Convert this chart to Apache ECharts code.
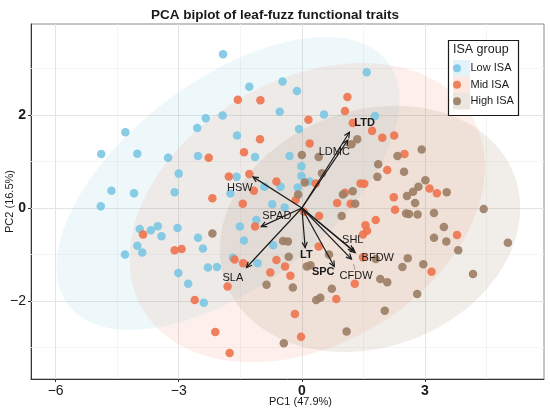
<!DOCTYPE html>
<html>
<head>
<meta charset="utf-8">
<script src="https://cdn.jsdelivr.net/npm/echarts@6/dist/echarts.min.js"></script>
<style>
html, body { margin: 0; padding: 0; background: #fff; }
#chart { width: 550px; height: 413px; }
</style>
</head>
<body>
<div id="chart"></div>
<script>
// --- data (PC1, PC2 scores) ---
const groups = ['Low ISA', 'Mid ISA', 'High ISA'];

const lowISA = [
  [-1.92, 3.31], [-1.28, 2.61], [-1.93, 1.99], [-2.34, 1.93], [-2.55, 1.72], [-4.30, 1.63], [-1.58, 1.56],
  [-4.89, 1.16], [-4.01, 1.17], [-3.26, 1.08], [-2.53, 1.12], [-1.14, 1.10], [-3.00, 0.74], [-1.59, 0.67],
  [-4.64, 0.37], [-4.09, 0.32], [-3.10, 0.34], [-1.74, 0.31], [-4.90, 0.04], [-0.91, 0.46], [-0.72, 0.08],
  [-0.54, 2.07], [-0.47, 2.72], [-1.11, -0.26], [-1.51, -0.40], [-3.95, -0.45], [-3.68, -0.48], [-3.51, -0.39],
  [-3.42, -0.61], [-3.03, -0.43], [-4.01, -0.81], [-3.89, -0.96], [-4.31, -1.00], [-2.53, -0.64], [-2.41, -0.87],
  [-2.29, -1.28], [-2.07, -1.27], [-3.01, -1.40], [-2.77, -1.63], [-2.39, -2.04], [-1.41, -0.70], [-1.68, -1.07],
  [-1.08, -1.19], [-0.70, -0.80], [1.58, 2.92], [-0.12, 2.52], [0.54, 2.01], [1.78, 1.98], [-0.07, 1.70],
  [-0.30, 1.12], [-0.01, 0.90], [-0.01, 0.69], [-0.52, 0.46], [-0.10, 0.44], [0.19, 0.57], [-0.42, 0.01]
];
const midISA = [
  [-1.56, 2.33], [-1.01, 2.32], [-1.02, 1.48], [-1.41, 1.20], [-2.27, 1.08], [-1.78, 0.68], [-1.28, 0.73],
  [-1.17, 0.37], [-2.18, 0.21], [-1.44, 0.09], [-0.62, 0.57], [-1.14, -0.40], [-3.87, -0.57], [-3.10, -0.91],
  [-2.93, -0.88], [-2.61, -1.98], [-2.11, -2.67], [-1.76, -3.12], [-1.81, -1.69], [-1.64, -1.11], [-1.43, -1.19],
  [-0.77, -1.39], [-0.62, -1.12], [1.11, 2.39], [1.05, 2.09], [0.16, 1.90], [1.24, 1.83], [1.71, 1.66],
  [1.96, 1.51], [2.25, 1.56], [0.19, 1.39], [2.50, 1.16], [2.08, 0.82], [0.34, 0.53], [1.43, 0.53],
  [1.52, 0.52], [3.11, 0.42], [3.29, 0.32], [1.05, 0.33], [0.86, 0.11], [1.19, 0.09], [2.24, 0.23],
  [2.27, -0.04], [0.42, -0.17], [-0.15, 0.17], [1.80, -0.26], [1.55, -0.37], [1.59, -0.49], [1.49, -0.57],
  [3.78, -0.58], [0.41, -0.83], [-0.41, -1.26], [-0.28, -1.46], [1.49, -1.06], [1.29, -1.63], [3.16, -1.37],
  [0.84, -1.96], [-0.17, -2.28], [-0.02, -2.77], [0.05, -0.08]
];
const highISA = [
  [-2.18, -0.55], [-0.86, -1.65], [1.35, 1.48], [1.21, 1.37], [0.00, 1.14], [0.41, 1.10], [2.92, 1.26],
  [2.33, 1.12], [1.86, 0.94], [0.49, 0.75], [1.84, 0.67], [2.49, 0.78], [0.07, 0.55], [-0.09, 0.29],
  [3.01, 0.60], [2.84, 0.46], [2.71, 0.35], [2.56, 0.26], [3.53, 0.34], [2.76, 0.11], [1.24, 0.36],
  [1.00, 0.29], [1.30, 0.09], [4.43, -0.02], [2.54, -0.12], [2.61, -0.13], [2.82, -0.14], [3.22, -0.11],
  [0.97, -0.17], [3.46, -0.41], [3.22, -0.64], [3.52, -0.72], [3.81, -0.91], [5.02, -0.75], [2.58, -1.08],
  [2.45, -1.27], [2.96, -1.21], [4.17, -1.42], [1.91, -1.53], [2.08, -1.60], [2.81, -1.85], [2.02, -2.21],
  [1.09, -2.66], [-0.46, -0.71], [-0.34, -0.72], [-0.32, -1.05], [0.12, -1.26], [0.21, -1.23], [0.66, -1.00],
  [0.73, -1.74], [0.35, -1.98], [0.45, -1.93], [-0.22, -1.71], [-0.44, -2.91], [1.80, -1.10]
];

// trait loadings (arrow tips) and where their labels sit
const traits = ['LTD', 'LDMC', 'HSW', 'SPAD', 'SLA', 'LT', 'SPC', 'SHL', 'BFDW', 'CFDW'];
const loadPC1 = [1.16, 1.12, -1.19, -0.99, -1.35, 0.08, 0.79, 1.26, 1.30, 1.21];
const loadPC2 = [1.63, 1.46, 0.67, -0.40, -1.28, -0.85, -1.26, -0.92, -0.96, -1.10];
const labelPC1 = [1.53, 0.79, -1.51, -0.61, -1.68, 0.11, 0.52, 1.24, 1.85, 1.32];
const labelPC2 = [1.83, 1.21, 0.44, -0.17, -1.50, -1.01, -1.38, -0.69, -1.08, -1.46];

// 95% ellipses per group: centre, half extents along PC1/PC2, correlation
const ellipseCX = [-1.80, 0.13, 1.66];
const ellipseCY = [0.53, -0.10, -0.45];
const ellipseHX = [4.18, 4.33, 3.66];
const ellipseHY = [3.15, 3.22, 2.65];
const ellipseRho = [0.57, 0.31, 0.17];

const xTicks = [-6, -3, 0, 3];
const xTickLabels = ['−6', '−3', '0', '3'];
const xMinor = [-4.5, -1.5, 1.5, 4.5];
const yTicks = [-2, 0, 2];
const yTickLabels = ['−2', '0', '2'];
const yMinor = [-3, -1, 1, 3];

// --- styles ---
const FONT = '"Liberation Sans", Arial, sans-serif';
const colors = ['#7ec8e3', '#ef7550', '#9d7f66'];
const ellipseFill = ['rgba(126,200,227,0.13)', 'rgba(239,117,80,0.11)', 'rgba(157,127,102,0.14)'];
const keyFill = ['#e4f3f9', '#fce8e0', '#ece6e1'];
const boldTraits = ['LTD', 'LT', 'SPC'];
const boldXTicks = [0, 3];
const boldYTicks = [0, 2];

function tickFormatter(ticks, labels, boldSet) {
  return function (v) {
    const i = ticks.indexOf(v);
    if (i < 0) return '';
    return boldSet.indexOf(v) >= 0 ? '{b|' + labels[i] + '}' : labels[i];
  };
}

function ellipseItem(params, api) {
  const i = params.dataIndex;
  const r = Math.sqrt(1 - ellipseRho[i] * ellipseRho[i]);
  const pts = [];
  for (let k = 0; k < 144; k++) {
    const t = k / 144 * Math.PI * 2;
    pts.push(api.coord([
      ellipseCX[i] + ellipseHX[i] * Math.cos(t),
      ellipseCY[i] + ellipseHY[i] * (ellipseRho[i] * Math.cos(t) + r * Math.sin(t))
    ]));
  }
  return { type: 'polygon', shape: { points: pts }, style: { fill: ellipseFill[i] } };
}

function arrowItem(params, api) {
  const i = params.dataIndex;
  const o = api.coord([0, 0]);
  const p = api.coord([loadPC1[i], loadPC2[i]]);
  const ang = Math.atan2(p[1] - o[1], p[0] - o[0]);
  const L = 6, a = 0.45;
  const h1 = [p[0] - L * Math.cos(ang - a), p[1] - L * Math.sin(ang - a)];
  const h2 = [p[0] - L * Math.cos(ang + a), p[1] - L * Math.sin(ang + a)];
  return {
    type: 'group',
    children: [
      { type: 'line', shape: { x1: o[0], y1: o[1], x2: p[0], y2: p[1] }, style: { stroke: '#1a1a1a', lineWidth: 1.2 } },
      { type: 'polyline', shape: { points: [h1, p, h2] }, style: { stroke: '#1a1a1a', lineWidth: 1.2, fill: null } }
    ]
  };
}

function labelItem(params, api) {
  const i = params.dataIndex;
  const c = api.coord([labelPC1[i], labelPC2[i]]);
  const children = [{
    type: 'text', x: c[0], y: c[1],
    style: {
      text: traits[i], font: (boldTraits.indexOf(traits[i]) >= 0 ? 'bold ' : '') + '11px ' + FONT,
      fill: '#1a1a1a', align: 'center', verticalAlign: 'middle'
    }
  }];
  if (traits[i] === 'CFDW') {
    const p = api.coord([loadPC1[i], loadPC2[i]]);
    children.push({ type: 'line', shape: { x1: p[0] + 2, y1: p[1] + 5, x2: c[0] - 1, y2: c[1] - 6 },
      style: { stroke: '#888', lineWidth: 0.8 } });
  }
  return { type: 'group', children: children };
}

const major = { color: '#e4e4e4', width: 1, type: 'solid' };
const minor = { color: '#f1f1f1', width: 0.8, type: 'solid' };
const gridLines = []
  .concat(xMinor.map(v => ({ xAxis: v, lineStyle: minor })))
  .concat(yMinor.map(v => ({ yAxis: v, lineStyle: minor })))
  .concat(xTicks.map(v => ({ xAxis: v, lineStyle: major })))
  .concat(yTicks.map(v => ({ yAxis: v, lineStyle: major })));

const chart = echarts.init(document.getElementById('chart'));
chart.setOption({
  animation: false,
  textStyle: { fontFamily: FONT },
  title: {
    text: 'PCA biplot of leaf-fuzz functional traits', left: 'center', top: 3,
    textStyle: { fontSize: 13.5, fontWeight: 'bold', color: '#1a1a1a', fontFamily: FONT }
  },
  grid: { left: 31, right: 6, top: 24, bottom: 34, containLabel: false, outerBoundsMode: 'none',
    show: true, borderColor: '#8c8c8c', borderWidth: 1 },
  xAxis: {
    type: 'value', min: -6.6, max: 5.9,
    name: 'PC1 (47.9%)', nameLocation: 'middle', nameGap: 17, nameMoveOverlap: false,
    nameTextStyle: { fontSize: 11, color: '#1a1a1a', padding: [0, 0, 0, 26] },
    axisLine: { onZero: false, lineStyle: { color: '#333', width: 1 } },
    axisTick: { customValues: xTicks, length: 3, lineStyle: { color: '#333' } },
    axisLabel: { customValues: xTicks, margin: 5, fontSize: 14, color: '#1a1a1a',
      formatter: tickFormatter(xTicks, xTickLabels, boldXTicks), rich: { b: { fontSize: 14, fontWeight: 'bold', color: '#1a1a1a' } } },
    splitLine: { show: false }
  },
  yAxis: {
    type: 'value', min: -3.68, max: 3.96,
    name: 'PC2 (16.5%)', nameLocation: 'middle', nameGap: 16, nameMoveOverlap: false,
    nameTextStyle: { fontSize: 11, color: '#1a1a1a' },
    axisLine: { onZero: false, lineStyle: { color: '#333', width: 1 } },
    axisTick: { customValues: yTicks, length: 3, lineStyle: { color: '#333' } },
    axisLabel: { customValues: yTicks, margin: 5, fontSize: 14, color: '#1a1a1a',
      formatter: tickFormatter(yTicks, yTickLabels, boldYTicks), rich: { b: { fontSize: 14, fontWeight: 'bold', color: '#1a1a1a' } } },
    splitLine: { show: false }
  },
  legend: {
    data: groups, orient: 'vertical', left: 453, top: 60, padding: 0, z: 60,
    itemWidth: 17, itemHeight: 8, itemGap: 0, icon: 'circle',
    textStyle: { fontSize: 11, lineHeight: 16.5, color: '#1a1a1a', fontFamily: FONT }
  },
  graphic: [
    { type: 'rect', z: 50, shape: { x: 448.5, y: 40.5, width: 70, height: 75 }, style: { fill: '#fff', stroke: '#1a1a1a', lineWidth: 1.2 } },
    { type: 'text', z: 51, x: 453, y: 50, style: { text: 'ISA group', font: '12.5px ' + FONT, fill: '#1a1a1a', verticalAlign: 'middle' } }
  ].concat(keyFill.map((f, i) => ({
    type: 'rect', z: 51, shape: { x: 453, y: 60 + i * 16.5, width: 17, height: 16.5 }, style: { fill: f }
  }))),
  series: [
    { type: 'scatter', name: 'grid', data: [], silent: true,
      markLine: { z: 1, symbol: 'none', silent: true, animation: false, label: { show: false }, data: gridLines } },
    { type: 'custom', name: 'ellipses', z: 2, silent: true, clip: true, renderItem: ellipseItem,
      data: ellipseCX.map((x, i) => [x, ellipseCY[i]]) },
    { type: 'scatter', name: groups[0], z: 3, symbolSize: 8.5, data: lowISA, itemStyle: { color: colors[0], opacity: 0.92 } },
    { type: 'scatter', name: groups[1], z: 3, symbolSize: 8.5, data: midISA, itemStyle: { color: colors[1], opacity: 0.92 } },
    { type: 'scatter', name: groups[2], z: 3, symbolSize: 8.5, data: highISA, itemStyle: { color: colors[2], opacity: 0.92 } },
    { type: 'custom', name: 'loadings', z: 4, silent: true, renderItem: arrowItem,
      data: loadPC1.map((x, i) => [x, loadPC2[i]]) },
    { type: 'custom', name: 'trait labels', z: 5, silent: true, renderItem: labelItem,
      data: labelPC1.map((x, i) => [x, labelPC2[i]]) }
  ]
});
</script>
</body>
</html>
